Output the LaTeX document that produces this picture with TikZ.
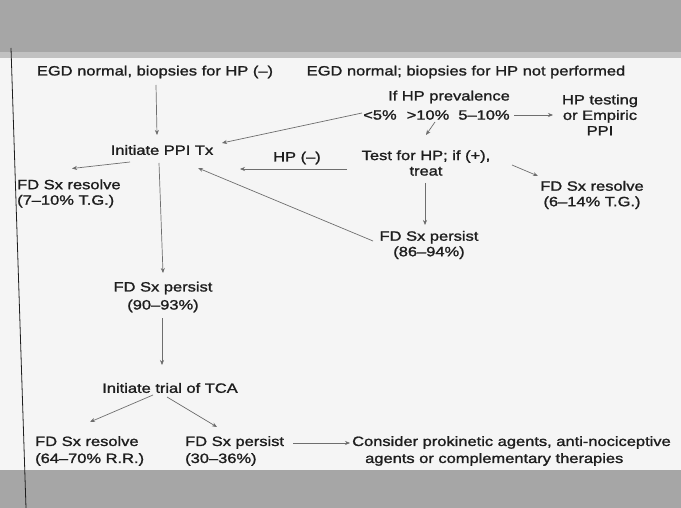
\documentclass[tikz,border=0pt]{standalone}
\usepackage{fontspec}
\setmainfont{Liberation Sans}[FakeStretch=1.22,FakeBold=1.4]
\usetikzlibrary{arrows.meta}
\definecolor{ink}{HTML}{1E1E1E}
\definecolor{wire}{HTML}{6E6E6E}
\definecolor{band}{HTML}{A6A6A6}
\begin{document}
\begin{tikzpicture}[x=1pt,y=-1pt,
  txt/.style={inner sep=0pt,text=ink,font=\fontsize{13.5}{15.5}\selectfont,align=center},
  ltxt/.style={txt,anchor=west,align=left},
  arr/.style={draw=wire,line width=0.7pt,-{Stealth[length=5pt,width=4pt,fill=ink]}}]
\useasboundingbox (0,0) rectangle (681,508);
\fill[white!96!black] (0,0) rectangle (681,508);
\fill[band] (0,0) rectangle (681,52);
\fill[band!70!white] (0,52) rectangle (681,58);
\fill[band] (0,470) rectangle (681,508);
\draw[ink,line width=0.8pt] (11,48) -- (26,508);
% nodes
\node[txt] (egd1) at (155,72) {EGD normal, biopsies for HP (--)};
\node[txt] (egd2) at (466,72) {EGD normal; biopsies for HP not performed};
\node[txt] (prev) at (449,97) {If HP prevalence};
\node[txt] (lt5) at (380,115) {<5\%};
\node[txt] (gt10) at (428,115) {>10\%};
\node[txt] (p510) at (484,115) {5--10\%};
\node[txt] (hpt) at (600,115) {HP testing\\or Empiric\\PPI};
\node[txt] (ppi) at (162,150) {Initiate PPI Tx};
\node[txt] (hpneg) at (297,158) {HP (--)};
\node[txt] (test) at (426,163) {Test for HP; if (+),\\treat};
\node[ltxt] (resL) at (17,193.5) {FD Sx resolve\\(7--10\% T.G.)};
\node[txt] (resR) at (592,195) {FD Sx resolve\\(6--14\% T.G.)};
\node[txt] (perR) at (429,245) {FD Sx persist\\(86--94\%)};
\node[txt,font=\fontsize{13.5}{18}\selectfont] (perM) at (163,297) {FD Sx persist\\(90--93\%)};
\node[txt] (tca) at (170,388) {Initiate trial of TCA};
\node[ltxt,font=\fontsize{13.5}{17}\selectfont] (resB) at (35,451) {FD Sx resolve\\(64--70\% R.R.)};
\node[ltxt,font=\fontsize{13.5}{17}\selectfont] (perB) at (185,451) {FD Sx persist\\(30--36\%)};
\node[ltxt,font=\fontsize{13.5}{17}\selectfont] (cons) at (352,451) {Consider prokinetic agents, anti-nociceptive\\\hspace*{13pt}agents or complementary therapies};
% connectors
\draw[arr] ([shift={(1,13)}]egd1.center) -- ([shift={(-5,-15)}]ppi.center);
\draw[arr] ([shift={(-18,-2)}]lt5.center) -- ([shift={(60,-7)}]ppi.center);
\draw[arr] ([shift={(30,0)}]p510.center) -- ([shift={(-47,0)}]hpt.center);
\draw[arr] ([shift={(7,7)}]gt10.center) -- ([shift={(0,-28)}]test.center);
\draw[arr] ([shift={(-79,6)}]test.center) -- ([shift={(78,19)}]ppi.center);
\draw[arr] ([shift={(86,2)}]test.center) -- ([shift={(-54,-19)}]resR.center);
\draw[arr] ([shift={(-32,12)}]ppi.center) -- ([shift={(55,-25)}]resL.west);
\draw[arr] ([shift={(-3,13)}]ppi.center) -- ([shift={(0,-24)}]perM.center);
\draw[arr] ([shift={(-56,-4)}]perR.center) -- ([shift={(36,18)}]ppi.center);
\draw[arr] ([shift={(-1,20)}]test.center) -- ([shift={(-4,-20)}]perR.center);
\draw[arr] ([shift={(-1,21)}]perM.center) -- ([shift={(-8,-23)}]tca.center);
\draw[arr] ([shift={(-17,7)}]tca.center) -- ([shift={(55,-29)}]resB.west);
\draw[arr] ([shift={(-3,9)}]tca.center) -- ([shift={(32,-24)}]perB.west);
\draw[arr] ([shift={(108,-8)}]perB.west) -- ([shift={(-2,-8)}]cons.west);
\end{tikzpicture}
\end{document}
